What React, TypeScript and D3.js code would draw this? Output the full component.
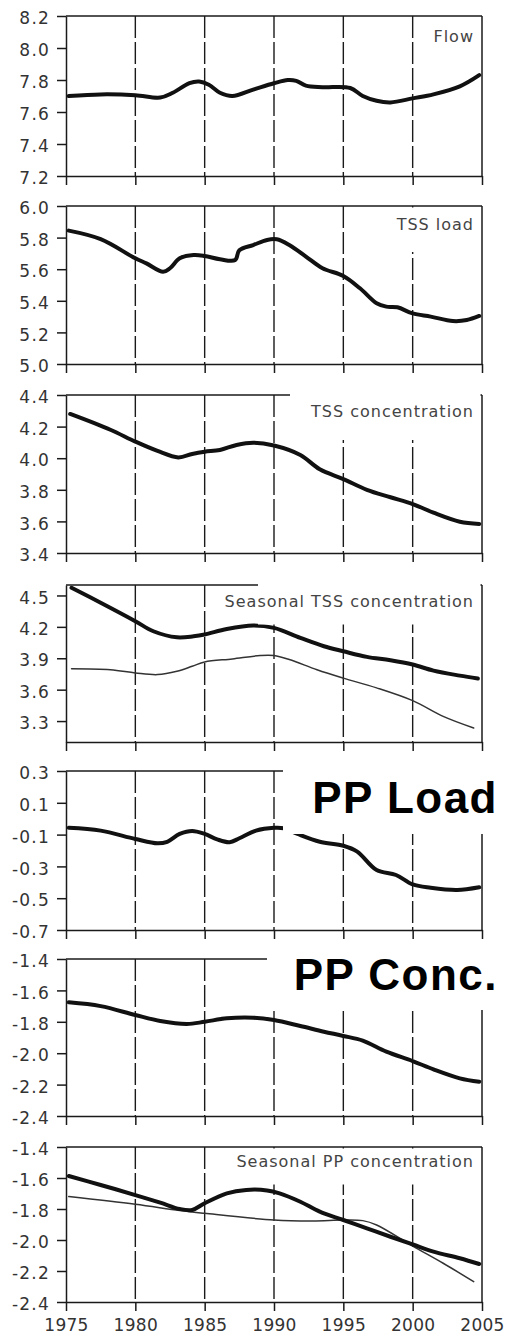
import React, { useEffect, useRef } from 'react';
import * as d3 from 'd3';

const width = 508;
const height = 1335;
const xLeft = 66;
const xRight = 482;

const yearTicks = [1975, 1980, 1985, 1990, 1995, 2000, 2005];

// Flow
const flowYears = [1975.2, 1977.5, 1980, 1981.8, 1982.7, 1983.9, 1984.6, 1985.3, 1986.1, 1987, 1988.5, 1990, 1991, 1991.6, 1992.3, 1993.5, 1995.5, 1996.4, 1997.4, 1998.4, 2000, 2001.5, 2003.4, 2004.8];
const flowValues = [7.70, 7.71, 7.705, 7.69, 7.72, 7.78, 7.79, 7.77, 7.72, 7.70, 7.74, 7.78, 7.80, 7.795, 7.765, 7.755, 7.75, 7.70, 7.67, 7.66, 7.685, 7.71, 7.76, 7.83];
const flowTicks = [7.2, 7.4, 7.6, 7.8, 8.0, 8.2];

// TSS load
const tssLoadYears = [1975.2, 1977.5, 1980, 1980.8, 1982, 1982.5, 1983.2, 1984.2, 1985, 1986.1, 1987.2, 1987.5, 1988.5, 1989.5, 1990.2, 1991.1, 1992.3, 1993.5, 1995, 1996.2, 1997.4, 1998.1, 1998.9, 2000, 2001.3, 2002.9, 2003.9, 2004.8];
const tssLoadValues = [5.844, 5.79, 5.669, 5.637, 5.584, 5.606, 5.669, 5.69, 5.684, 5.663, 5.658, 5.72, 5.753, 5.785, 5.789, 5.753, 5.68, 5.606, 5.557, 5.479, 5.384, 5.363, 5.359, 5.32, 5.30, 5.272, 5.278, 5.304];
const tssLoadTicks = [5.0, 5.2, 5.4, 5.6, 5.8, 6.0];

// TSS concentration
const tssConcYears = [1975.3, 1978.2, 1980, 1981.6, 1983.1, 1984.1, 1985, 1986.1, 1987.3, 1988.5, 1990, 1991.9, 1993.3, 1995, 1996.7, 1998.4, 2000, 2001.5, 2003.4, 2004.8];
const tssConcValues = [4.28, 4.18, 4.105, 4.046, 4.005, 4.027, 4.041, 4.052, 4.084, 4.098, 4.08, 4.02, 3.93, 3.868, 3.80, 3.753, 3.71, 3.655, 3.598, 3.584];
const tssConcTicks = [3.4, 3.6, 3.8, 4.0, 4.2, 4.4];

// Seasonal TSS concentration (thick and thin)
const seasTssYears = [1975.4, 1977.5, 1980, 1981.3, 1983, 1984.2, 1985, 1986.6, 1988.5, 1990, 1991.9, 1993.6, 1995, 1996.7, 1998.4, 2000, 2001.5, 2003.4, 2004.7];
const seasTssValues = [4.574, 4.43, 4.254, 4.158, 4.10, 4.11, 4.127, 4.18, 4.213, 4.19, 4.095, 4.015, 3.967, 3.913, 3.881, 3.84, 3.782, 3.734, 3.706];
const seasTssThinYears = [1975.4, 1978.2, 1980, 1981.6, 1983, 1984.1, 1985, 1987, 1989, 1990, 1991.1, 1993.1, 1995, 1997.4, 2000, 2002.2, 2004.4];
const seasTssThinValues = [3.799, 3.79, 3.76, 3.744, 3.775, 3.823, 3.865, 3.894, 3.926, 3.926, 3.888, 3.79, 3.71, 3.617, 3.495, 3.345, 3.234];
const seasTssTicks = [3.3, 3.6, 3.9, 4.2, 4.5];

// PP load
const ppLoadYears = [1975.2, 1977.5, 1980, 1981.6, 1982.3, 1983.2, 1984.1, 1985, 1985.9, 1986.8, 1987.5, 1988.7, 1990, 1990.7, 1991.7, 1993.3, 1995, 1996, 1997.4, 1998.8, 2000, 2001.3, 2003.2, 2004.8];
const ppLoadValues = [-0.057, -0.075, -0.128, -0.155, -0.145, -0.096, -0.077, -0.096, -0.13, -0.148, -0.123, -0.075, -0.057, -0.06, -0.096, -0.145, -0.17, -0.207, -0.323, -0.354, -0.413, -0.434, -0.448, -0.431];
const ppLoadTicks = [-0.7, -0.5, -0.3, -0.1, 0.1, 0.3];

// PP concentration
const ppConcYears = [1975.2, 1977.5, 1980, 1981.8, 1983.7, 1985, 1986.6, 1988.5, 1990, 1991.9, 1993.6, 1995, 1996.4, 1998.1, 2000, 2001.5, 2003.4, 2004.8];
const ppConcValues = [-1.676, -1.70, -1.757, -1.795, -1.814, -1.80, -1.778, -1.774, -1.789, -1.827, -1.863, -1.89, -1.92, -1.99, -2.05, -2.103, -2.16, -2.182];
const ppConcTicks = [-2.4, -2.2, -2.0, -1.8, -1.6, -1.4];

// Seasonal PP concentration (thick and thin)
const seasPpYears = [1975.2, 1977.5, 1980, 1981.8, 1983.2, 1984.1, 1985, 1986.6, 1988, 1989.5, 1990.4, 1991.9, 1993.3, 1995, 1996.7, 1998.4, 2000, 2001.5, 2003.4, 2004.8];
const seasPpValues = [-1.587, -1.645, -1.71, -1.759, -1.80, -1.806, -1.763, -1.699, -1.677, -1.68, -1.699, -1.753, -1.817, -1.871, -1.925, -1.979, -2.028, -2.075, -2.118, -2.155];
const seasPpThinYears = [1975.2, 1980, 1983.2, 1985, 1990, 1992.8, 1995, 1996.4, 1997.4, 2000, 2002.2, 2004.4];
const seasPpThinValues = [-1.72, -1.77, -1.81, -1.828, -1.871, -1.877, -1.871, -1.875, -1.903, -2.039, -2.15, -2.269];
const seasPpTicks = [-2.4, -2.2, -2.0, -1.8, -1.6, -1.4];

const panels = [
  { top: 16, bottom: 176, domain: [7.2, 8.2], ticks: flowTicks,
    lines: [{ years: flowYears, values: flowValues, thick: true }],
    label: 'Flow', labelY: 41.5, big: false, box: null },
  { top: 206, bottom: 364, domain: [5.0, 6.0], ticks: tssLoadTicks,
    lines: [{ years: tssLoadYears, values: tssLoadValues, thick: true }],
    label: 'TSS load', labelY: 230, big: false, box: [390, 207.5, 478, 252] },
  { top: 395, bottom: 553, domain: [3.4, 4.4], ticks: tssConcTicks,
    lines: [{ years: tssConcYears, values: tssConcValues, thick: true }],
    label: 'TSS concentration', labelY: 417, big: false, box: [290, 393.5, 480.5, 440] },
  { top: 585, bottom: 742, domain: [3.1, 4.6], ticks: seasTssTicks,
    lines: [
      { years: seasTssThinYears, values: seasTssThinValues, thick: false },
      { years: seasTssYears, values: seasTssValues, thick: true },
    ],
    label: 'Seasonal TSS concentration', labelY: 607, big: false, box: [258, 583.5, 480.5, 624.5] },
  { top: 771, bottom: 930, domain: [-0.7, 0.3], ticks: ppLoadTicks,
    lines: [{ years: ppLoadYears, values: ppLoadValues, thick: true }],
    label: 'PP Load', labelY: 813, big: true, box: [283, 752, 508, 834] },
  { top: 959, bottom: 1116, domain: [-2.4, -1.4], ticks: ppConcTicks,
    lines: [{ years: ppConcYears, values: ppConcValues, thick: true }],
    label: 'PP Conc.', labelY: 990, big: true, box: [267, 945, 508, 1010] },
  { top: 1147, bottom: 1302, domain: [-2.4, -1.4], ticks: seasPpTicks,
    lines: [
      { years: seasPpThinYears, values: seasPpThinValues, thick: false },
      { years: seasPpYears, values: seasPpValues, thick: true },
    ],
    label: 'Seasonal PP concentration', labelY: 1167, big: false, box: [225, 1148.5, 478, 1184.5] },
];

const ink = '#1a1a1a';
const fmt = (d: number) => d3.format('.1f')(d).replace('\u2212', '-');

export default function App() {
  const ref = useRef<SVGSVGElement>(null);

  useEffect(() => {
    const svg = d3.select(ref.current);
    svg.selectAll('*').remove();

    const x = d3.scaleLinear().domain([1975, 2005]).range([xLeft, xRight]);

    panels.forEach((p, i) => {
      const y = d3.scaleLinear().domain(p.domain).range([p.bottom, p.top]);
      const g = svg.append('g');

      // dashed year grid
      g.selectAll('line.grid')
        .data(yearTicks.slice(1, -1))
        .join('line')
        .attr('x1', d => x(d)).attr('x2', d => x(d))
        .attr('y1', p.top).attr('y2', p.bottom)
        .attr('stroke', ink).attr('stroke-width', 1.4)
        .attr('stroke-dasharray', '22 4');

      // frame top and right
      g.append('line')
        .attr('x1', xLeft).attr('x2', xRight).attr('y1', p.top).attr('y2', p.top)
        .attr('stroke', ink).attr('stroke-width', 1.5);
      g.append('line')
        .attr('x1', xRight).attr('x2', xRight).attr('y1', p.top).attr('y2', p.bottom)
        .attr('stroke', ink).attr('stroke-width', 1.5);

      const line = d3.line<[number, number]>()
        .x(d => x(d[0]))
        .y(d => y(d[1]))
        .curve(d3.curveCatmullRom.alpha(0.5));

      p.lines.forEach(l => {
        g.append('path')
          .datum(d3.zip(l.years, l.values) as [number, number][])
          .attr('d', line)
          .attr('fill', 'none')
          .attr('stroke', l.thick ? '#111' : '#333')
          .attr('stroke-width', l.thick ? 4 : 1.5)
          .attr('stroke-linejoin', 'round')
          .attr('stroke-linecap', 'round');
      });

      // white box behind label
      if (p.box) {
        g.append('rect')
          .attr('x', p.box[0]).attr('y', p.box[1])
          .attr('width', p.box[2] - p.box[0]).attr('height', p.box[3] - p.box[1])
          .attr('fill', '#fff');
      }

      if (p.big) {
        g.append('text')
          .attr('x', 498).attr('y', p.labelY)
          .attr('text-anchor', 'end')
          .style('font-family', '"Liberation Sans", Arial, sans-serif')
          .style('font-weight', 'bold')
          .style('font-size', '44px')
          .style('letter-spacing', '1.5px')
          .attr('fill', '#000')
          .text(p.label);
      } else {
        g.append('text')
          .attr('x', 474).attr('y', p.labelY)
          .attr('text-anchor', 'end')
          .style('font-family', '"DejaVu Sans", sans-serif')
          .style('font-size', '16px')
          .style('letter-spacing', '1px')
          .attr('fill', '#444')
          .text(p.label);
      }

      // y axis
      const yAxis = d3.axisLeft(y)
        .tickValues(p.ticks)
        .tickSize(9)
        .tickSizeOuter(0)
        .tickPadding(7)
        .tickFormat(d => fmt(+d));
      const ya = g.append('g')
        .attr('transform', `translate(${xLeft},0)`)
        .style('color', ink)
        .call(yAxis);
      ya.selectAll('path, line').attr('stroke-width', 1.5);
      ya.selectAll('text')
        .attr('dy', '0.45em')
        .attr('fill', '#333')
        .style('font-family', '"DejaVu Sans", sans-serif')
        .style('font-size', '17px')
        .style('letter-spacing', '1.2px');

      // x axis
      const last = i === panels.length - 1;
      const xAxis = d3.axisBottom(x)
        .tickValues(yearTicks)
        .tickSize(9)
        .tickSizeOuter(0)
        .tickPadding(8)
        .tickFormat(d => (last ? d3.format('d')(+d) : ''));
      const xa = g.append('g')
        .attr('transform', `translate(0,${p.bottom})`)
        .style('color', ink)
        .call(xAxis);
      xa.selectAll('path, line').attr('stroke-width', 1.5);
      xa.selectAll('text')
        .attr('fill', '#333')
        .style('font-family', '"DejaVu Sans", sans-serif')
        .style('font-size', '17px')
        .style('letter-spacing', '0.3px');
    });
  }, []);

  return (
    <svg
      ref={ref}
      width={width}
      height={height}
      style={{ position: 'absolute', left: 0, top: 0, background: '#fff' }}
    />
  );
}
